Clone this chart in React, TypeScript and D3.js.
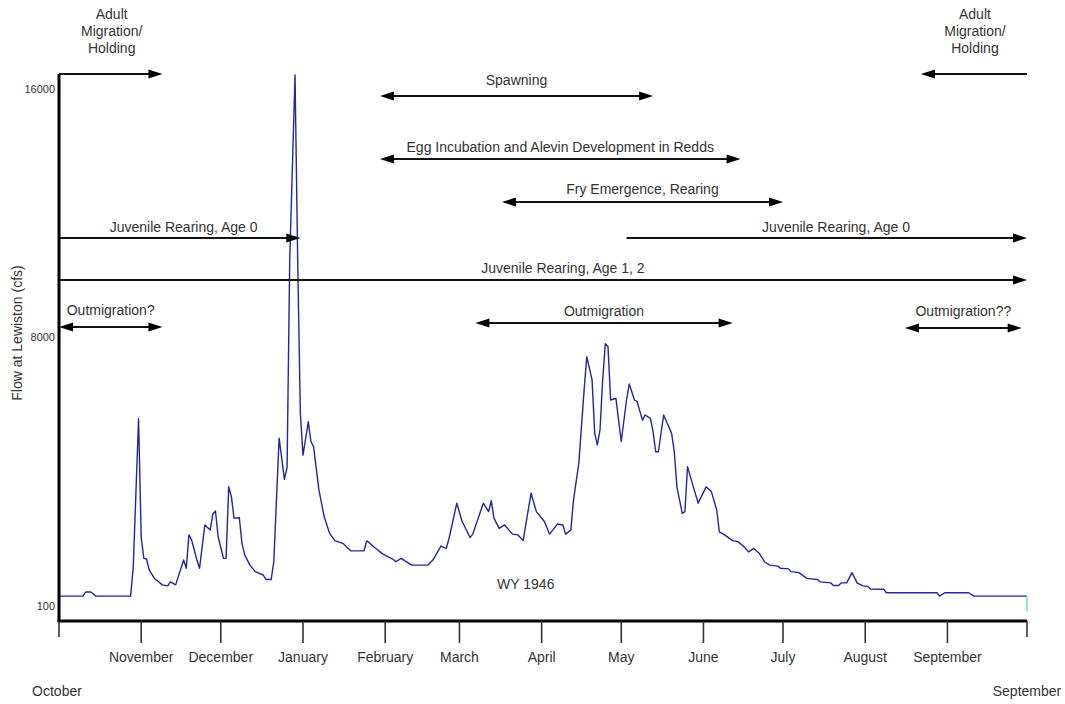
import { useEffect, useRef } from 'react';
import * as d3 from 'd3';

const WIDTH = 1065;
const HEIGHT = 704;

// Water year 1946: days counted from 1 October 1945
const flowDay = [
  0, 9, 10, 12, 14, 27, 28, 30, 31, 32, 33, 34, 36, 39, 41, 42, 44, 46, 47, 48,
  49, 50, 52, 53, 55, 57, 58, 59, 60, 62, 63, 64, 65, 66, 68, 69, 70, 72, 74, 77,
  78, 80, 81, 83, 85, 86, 87, 89, 90, 91, 92, 94, 95, 96, 98, 100, 102, 104, 107, 110,
  115, 116, 117, 119, 122, 126, 127, 129, 133, 139, 141, 144, 146, 147, 150, 152, 155, 156, 160, 162,
  163, 164, 166, 168, 171, 173, 175, 178, 180, 183, 185, 188, 190, 191, 193, 194, 196, 198, 199, 201,
  202, 203, 204, 205, 206, 207, 208, 210, 211, 212, 214, 215, 217, 218, 220, 221, 223, 224, 225, 226,
  228, 231, 232, 233, 235, 236, 237, 239, 241, 244, 246, 248, 249, 251, 254, 256, 258, 260, 262, 264,
  266, 268, 271, 272, 275, 276, 279, 282, 286, 287, 291, 292, 294, 295, 297, 299, 301, 303, 305, 306,
  311, 312, 331, 332, 334, 343, 345, 365,
];
const flowCfs = [
  390, 390, 510, 510, 390, 390, 1250, 5600, 2100, 1500, 1480, 1160, 910, 720, 690, 810, 720, 1210, 1450, 1210,
  2190, 2040, 1450, 1210, 2480, 2330, 2800, 2890, 2140, 1500, 1500, 3600, 3310, 2680, 2690, 1940, 1600, 1300, 1110, 1010,
  880, 880, 1400, 5030, 3820, 4170, 10480, 16450, 10480, 5770, 4530, 5510, 4930, 4780, 3510, 2720, 2240, 2020, 1940, 1720,
  1720, 2010, 1960, 1820, 1630, 1470, 1400, 1500, 1300, 1300, 1450, 1860, 1790, 2060, 3120, 2580, 2110, 2210, 3120, 2870,
  3190, 2680, 2380, 2480, 2210, 2190, 2020, 3410, 2870, 2580, 2210, 2510, 2480, 2210, 2330, 3210, 4290, 6440, 7420, 6740,
  5170, 4830, 5270, 6740, 7800, 7720, 6150, 6200, 5560, 4930, 6150, 6620, 6150, 6100, 5560, 5710, 5610, 5220, 4630, 4630,
  5710, 5170, 4630, 3600, 2820, 2870, 4190, 3650, 3120, 3600, 3460, 2920, 2280, 2190, 2020, 1990, 1860, 1690, 1790, 1650,
  1400, 1300, 1270, 1210, 1190, 1110, 1080, 910, 880, 810, 780, 700, 700, 780, 780, 1080, 770, 700, 670, 600,
  590, 490, 490, 390, 490, 490, 390, 390,
];
// last reading of the year (drawn in green)
const endDay = [365, 365];
const endCfs = [390, -60];

const yTicks = [100, 8000, 16000];
const monthTickLabels = [
  'November', 'December', 'January', 'February', 'March', 'April',
  'May', 'June', 'July', 'August', 'September',
];
const endLabels = ['October', 'September'];

// life-stage periods
const phaseLabels = [
  'Adult\nMigration/\nHolding',
  'Adult\nMigration/\nHolding',
  'Spawning',
  'Egg Incubation and Alevin Development in Redds',
  'Fry Emergence, Rearing',
  'Juvenile Rearing, Age 0',
  'Juvenile Rearing, Age 0',
  'Juvenile Rearing, Age 1, 2',
  'Outmigration?',
  'Outmigration',
  'Outmigration??',
];
const phaseStart = [
  '1945-10-01', '1946-08-22', '1946-01-30', '1946-01-30', '1946-03-17', '1945-10-01',
  '1946-05-03', '1945-10-01', '1945-10-01', '1946-03-07', '1946-08-16',
];
const phaseEnd = [
  '1945-11-09', '1946-10-01', '1946-05-13', '1946-06-15', '1946-07-01', '1945-12-31',
  '1946-10-01', '1946-10-01', '1945-11-09', '1946-06-12', '1946-09-29',
];
const phaseHeads = ['end', 'start', 'both', 'both', 'both', 'end', 'end', 'end', 'both', 'both', 'both'];
const phaseLabelAt = [null, null, null, null, null, '1945-11-17', '1946-07-21', '1946-04-09', null, null, null];

// layout
const X_RANGE = [59, 1027];
const Y_RANGE = [606, 337, 89];
const AXIS_Y = 621;
const AXIS_TOP = 74;
const PHASE_LINE_Y = [74, 74, 96, 159, 202, 238, 238, 280, 327, 323, 328];
const PHASE_LABEL_Y = [15, 15, 81, 148, 190, 228, 228, 269, 311, 312, 312];
const FONT = '"Liberation Sans", Arial, Helvetica, sans-serif';
const TEXT = '#333';

export default function App() {
  const svgRef = useRef<SVGSVGElement>(null);

  useEffect(() => {
    if (!svgRef.current) return;
    const svg = d3.select(svgRef.current);
    svg.selectAll('*').remove();

    const parse = d3.timeParse('%Y-%m-%d');
    const wyStart = parse('1945-10-01') as Date;
    const wyEnd = parse('1946-10-01') as Date;

    const x = d3.scaleTime().domain([wyStart, wyEnd]).range(X_RANGE);
    const y = d3.scaleLinear().domain(yTicks).range(Y_RANGE);

    const dayX = (d: number) => x(d3.timeDay.offset(wyStart, d));

    // Flow hydrograph
    const line = d3.line<number>()
      .x((d) => dayX(flowDay[d]))
      .y((d) => y(flowCfs[d]));

    svg.append('path')
      .attr('d', line(d3.range(flowDay.length)))
      .attr('fill', 'none')
      .attr('stroke', '#25259c')
      .attr('stroke-width', 1.4)
      .attr('stroke-linejoin', 'round');

    const endLine = d3.line<number>()
      .x((d) => dayX(endDay[d]))
      .y((d) => y(endCfs[d]));

    svg.append('path')
      .attr('d', endLine(d3.range(endDay.length)))
      .attr('fill', 'none')
      .attr('stroke', '#8fe3bd')
      .attr('stroke-width', 1.8);

    svg.append('text')
      .attr('x', dayX(176))
      .attr('y', y(100) - 21)
      .attr('text-anchor', 'middle')
      .attr('dominant-baseline', 'middle')
      .style('font-family', FONT)
      .style('font-size', '14px')
      .style('fill', TEXT)
      .text('WY 1946');

    // Axes
    svg.append('line')
      .attr('x1', X_RANGE[0]).attr('x2', X_RANGE[0])
      .attr('y1', AXIS_TOP).attr('y2', AXIS_Y + 1)
      .attr('stroke', '#000').attr('stroke-width', 3);

    svg.append('line')
      .attr('x1', X_RANGE[0] - 1.5).attr('x2', X_RANGE[1])
      .attr('y1', AXIS_Y).attr('y2', AXIS_Y)
      .attr('stroke', '#000').attr('stroke-width', 3);

    // End ticks (October / September)
    [wyStart, wyEnd].forEach((d, i) => {
      svg.append('line')
        .attr('x1', x(d)).attr('x2', x(d))
        .attr('y1', AXIS_Y).attr('y2', AXIS_Y + 16)
        .attr('stroke', '#333').attr('stroke-width', 1.6);
      svg.append('text')
        .attr('x', x(d) - (i === 0 ? 2 : 0))
        .attr('y', 692)
        .attr('text-anchor', 'middle')
        .attr('dominant-baseline', 'middle')
        .style('font-family', FONT)
        .style('font-size', '14px')
        .style('fill', TEXT)
        .text(endLabels[i]);
    });

    // Month ticks
    monthTickLabels.forEach((label, i) => {
      const d = d3.timeMonth.offset(wyStart, i + 1);
      svg.append('line')
        .attr('x1', x(d)).attr('x2', x(d))
        .attr('y1', AXIS_Y).attr('y2', AXIS_Y + 22)
        .attr('stroke', '#333').attr('stroke-width', 1.6);
      svg.append('text')
        .attr('x', x(d))
        .attr('y', 658)
        .attr('text-anchor', 'middle')
        .attr('dominant-baseline', 'middle')
        .style('font-family', FONT)
        .style('font-size', '14px')
        .style('fill', TEXT)
        .text(label);
    });

    // Y labels
    yTicks.forEach((t) => {
      svg.append('text')
        .attr('x', 55)
        .attr('y', y(t) + 1)
        .attr('text-anchor', 'end')
        .attr('dominant-baseline', 'middle')
        .style('font-family', FONT)
        .style('font-size', '11px')
        .style('fill', TEXT)
        .text(String(t));
    });

    svg.append('text')
      .attr('transform', 'translate(18, 333) rotate(-90)')
      .attr('text-anchor', 'middle')
      .attr('dominant-baseline', 'middle')
      .style('font-family', FONT)
      .style('font-size', '14px')
      .style('fill', TEXT)
      .text('Flow at Lewiston (cfs)');

    // Life-stage arrows
    const headLen = 14;
    const headHalf = 4.5;
    const drawHead = (tipX: number, cy: number, dir: number) => {
      svg.append('path')
        .attr('d', `M${tipX},${cy} L${tipX - dir * headLen},${cy - headHalf} L${tipX - dir * headLen},${cy + headHalf} Z`)
        .attr('fill', '#000');
    };

    phaseLabels.forEach((label, i) => {
      const x0 = x(parse(phaseStart[i]) as Date);
      const x1 = x(parse(phaseEnd[i]) as Date);
      const cy = PHASE_LINE_Y[i];
      const heads = phaseHeads[i];
      const startHead = heads === 'start' || heads === 'both';
      const endHead = heads === 'end' || heads === 'both';

      svg.append('line')
        .attr('x1', startHead ? x0 + headLen - 2 : x0)
        .attr('x2', endHead ? x1 - headLen + 2 : x1)
        .attr('y1', cy).attr('y2', cy)
        .attr('stroke', '#111')
        .attr('stroke-width', 2);

      if (startHead) drawHead(x0, cy, -1);
      if (endHead) drawHead(x1, cy, 1);

      const lx = phaseLabelAt[i] ? x(parse(phaseLabelAt[i] as string) as Date) : (x0 + x1) / 2;
      const lines = label.split('\n');
      const text = svg.append('text')
        .attr('text-anchor', 'middle')
        .style('font-family', FONT)
        .style('font-size', '14px')
        .style('fill', TEXT);
      lines.forEach((s, k) => {
        text.append('tspan')
          .attr('x', lx + (lines.length > 1 ? 1 : 0))
          .attr('y', PHASE_LABEL_Y[i] + k * 17)
          .attr('dominant-baseline', 'middle')
          .text(s);
      });
    });
  }, []);

  return (
    <svg
      ref={svgRef}
      width={WIDTH}
      height={HEIGHT}
      style={{ position: 'absolute', left: 0, top: 0, background: '#fff' }}
    />
  );
}
